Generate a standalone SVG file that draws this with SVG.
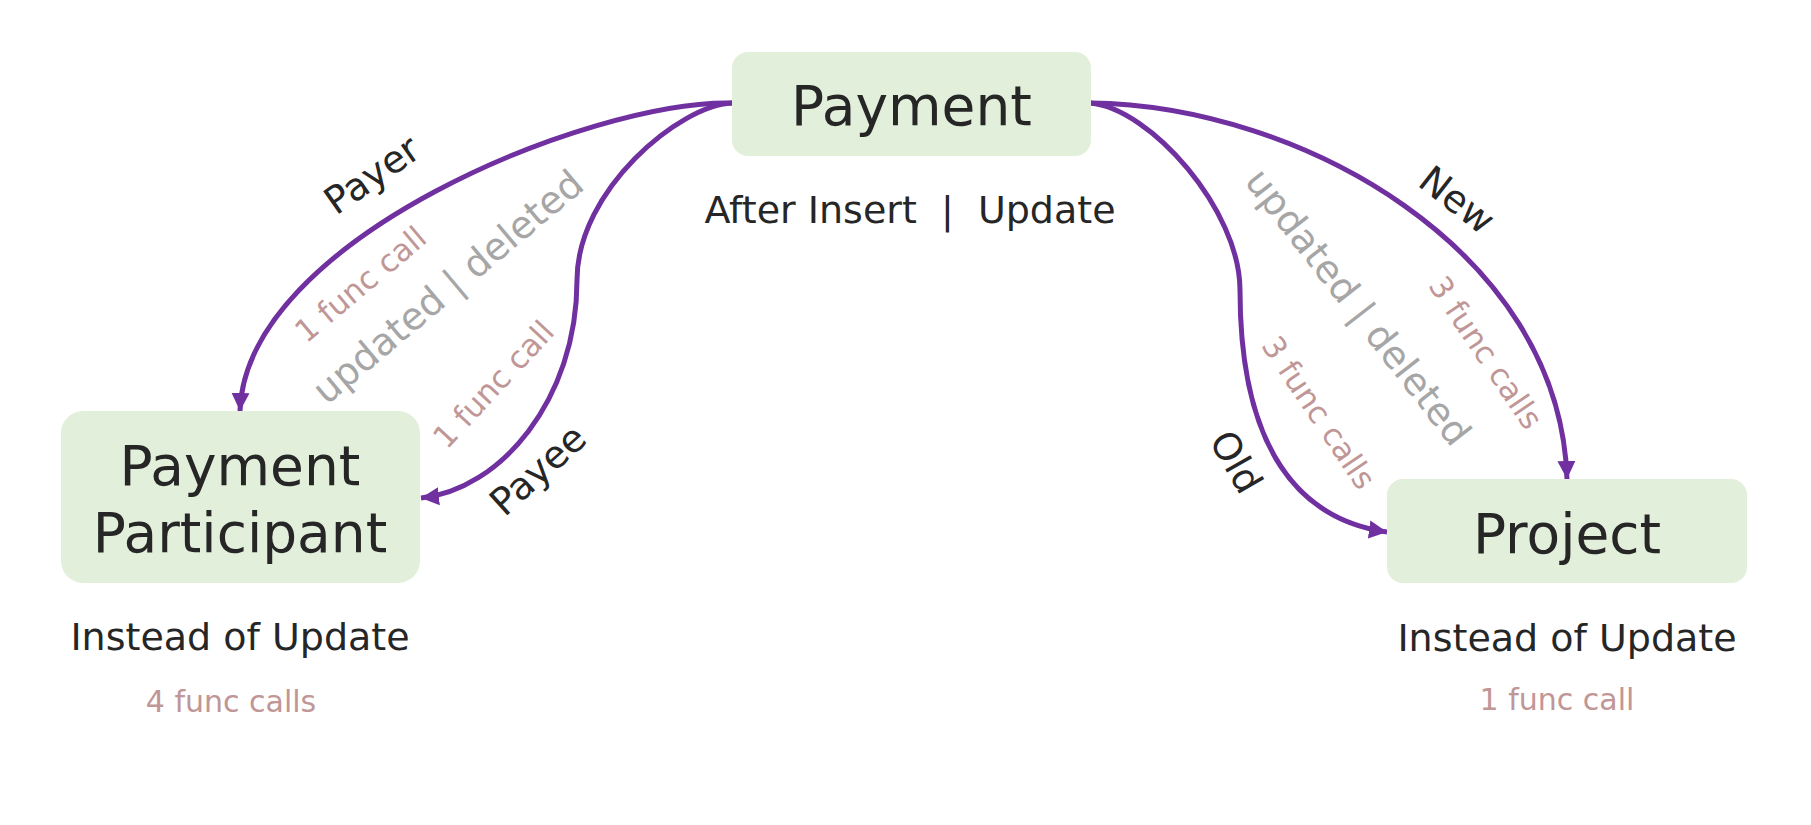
<svg xmlns="http://www.w3.org/2000/svg" width="1811" height="825" viewBox="0 0 1811 825">
<style>
.box{fill:#E2EFDA}
.t{font-family:"DejaVu Sans","Liberation Sans",sans-serif;fill:#262626;text-anchor:middle}
.big{font-size:55px}
.mid{font-size:38px}
.red{font-family:"DejaVu Sans","Liberation Sans",sans-serif;fill:#C09696;font-size:30px;text-anchor:middle}
.rr{font-size:31px}
.gray{font-family:"DejaVu Sans","Liberation Sans",sans-serif;fill:#A6A6A6;font-size:38px;text-anchor:middle}
.c{fill:none;stroke:#7030A0;stroke-width:5}
</style>
<defs>
<marker id="ah" markerUnits="userSpaceOnUse" markerWidth="20" markerHeight="20" refX="18" refY="10" orient="auto">
<path d="M0,1 L18,10 L0,19 Z" fill="#7030A0"/>
</marker>
</defs>
<rect width="1811" height="825" fill="#FFFFFF"/>
<g id="connectors">
<path class="c" marker-end="url(#ah)" d="M732,103 C590,100 245,240 240,411"/>
<path class="c" marker-end="url(#ah)" d="M732,103 C680,105 577,190 577,280 C577,400 500,490 421,498"/>
<path class="c" marker-end="url(#ah)" d="M1090,103 C1300,105 1560,250 1567,479"/>
<path class="c" marker-end="url(#ah)" d="M1090,103 C1150,108 1240,210 1240,290 C1240,450 1300,520 1387,532"/>
</g>
<g id="labels">
<text class="t mid" transform="translate(372,175) rotate(-35)" y="13">Payer</text>
<text class="red rr" transform="translate(361,285) rotate(-40)" y="10">1 func call</text>
<text class="gray" transform="translate(448,287) rotate(-40)" y="13">updated | deleted</text>
<text class="red rr" transform="translate(494,385) rotate(-47)" y="10">1 func call</text>
<text class="t mid" transform="translate(538,470) rotate(-42)" y="13">Payee</text>
<text class="t mid" transform="translate(1457,200) rotate(38)" y="13">New</text>
<text class="gray" transform="translate(1358,307) rotate(52)" y="13">updated | deleted</text>
<text class="red rr" transform="translate(1485,353) rotate(56)" y="10">3 func calls</text>
<text class="red rr" transform="translate(1318,413) rotate(56)" y="10">3 func calls</text>
<text class="t mid" transform="translate(1236,462) rotate(60)" y="13">Old</text>
</g>
<g id="payment">
<rect class="box" x="732" y="52" width="359" height="104" rx="16"/>
<text class="t big" x="911.5" y="125">Payment</text>
<text class="t mid" x="910" y="223">After Insert &#160;| &#160;Update</text>
</g>
<g id="payment-participant">
<rect class="box" x="61" y="411" width="359" height="172" rx="22"/>
<text class="t big" x="240" y="485">Payment</text>
<text class="t big" x="240" y="552">Participant</text>
<text class="t mid" x="240" y="650">Instead of Update</text>
<text class="red" x="231" y="712">4 func calls</text>
</g>
<g id="project">
<rect class="box" x="1387" y="479" width="360" height="104" rx="16"/>
<text class="t big" x="1567" y="553">Project</text>
<text class="t mid" x="1567" y="651">Instead of Update</text>
<text class="red" x="1557" y="710">1 func call</text>
</g>
</svg>
